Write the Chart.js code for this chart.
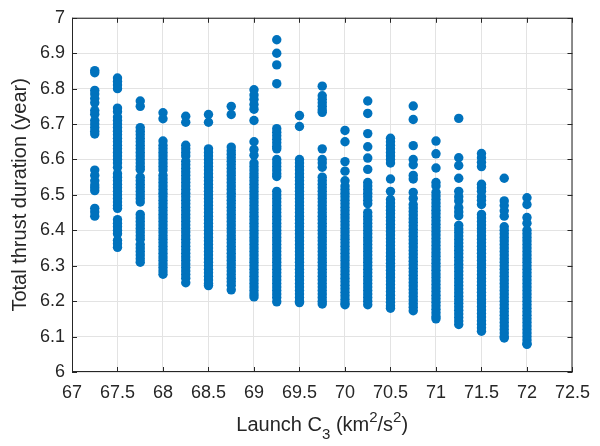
<!DOCTYPE html>
<html>
<head>
<meta charset="utf-8">
<script src="https://cdn.jsdelivr.net/npm/chart.js@4"></script>
<style>
  html, body { margin: 0; padding: 0; background: #ffffff; }
  #wrap { width: 600px; height: 446px; }
</style>
</head>
<body>
<div id="wrap"><canvas id="chart"></canvas></div>
<script>
// Launch C3 values (one column of points per value)
const launchC3 = [67.25, 67.5, 67.75, 68, 68.25, 68.5, 68.75, 69, 69.25, 69.5,
                  69.75, 70, 70.25, 70.5, 70.75, 71, 71.25, 71.5, 71.75, 72];

// Total thrust duration (year), same order as launchC3
const thrustDuration = [
  // 67.25
  [6.851, 6.845, 6.795, 6.785, 6.772, 6.76, 6.738, 6.728, 6.71, 6.70, 6.69, 6.68, 6.672, 6.57, 6.555, 6.54, 6.528, 6.52, 6.512, 6.462, 6.452, 6.44],
  // 67.5
  [6.83, 6.82, 6.81, 6.80, 6.745, 6.735, 6.72, 6.71, 6.70, 6.69, 6.68, 6.67, 6.66, 6.65, 6.64, 6.63, 6.62, 6.61, 6.60, 6.59, 6.578,
   6.56, 6.55, 6.54, 6.53, 6.52, 6.51, 6.50, 6.49, 6.48, 6.47, 6.462, 6.43, 6.42, 6.41, 6.40, 6.39, 6.372, 6.362, 6.352],
  // 67.75
  [6.765, 6.75, 6.69, 6.68, 6.67, 6.66, 6.65, 6.64, 6.63, 6.62, 6.61, 6.60, 6.59, 6.58, 6.572, 6.55, 6.54, 6.53, 6.52, 6.51, 6.50, 6.49, 6.48,
   6.445, 6.435, 6.425, 6.415, 6.405, 6.395, 6.385, 6.375, 6.36, 6.35, 6.34, 6.33, 6.32, 6.31],
  // 68
  [6.732, 6.715, 6.652, 6.64, 6.63, 6.62, 6.61, 6.60, 6.59, 6.58, 6.57, 6.555, 6.545, 6.535, 6.525, 6.515, 6.505, 6.495, 6.485, 6.475,
   6.465, 6.455, 6.445, 6.435, 6.425, 6.415, 6.405, 6.395, 6.385, 6.375, 6.365, 6.355, 6.345, 6.335, 6.325, 6.315, 6.305, 6.295, 6.285, 6.276],
  // 68.25
  [6.722, 6.705, 6.64, 6.63, 6.62, 6.61, 6.595, 6.585, 6.575, 6.565, 6.555, 6.545, 6.535, 6.525, 6.515, 6.505, 6.495, 6.485, 6.475, 6.465,
   6.455, 6.445, 6.435, 6.425, 6.415, 6.405, 6.395, 6.385, 6.375, 6.365, 6.355, 6.345, 6.335, 6.325, 6.315, 6.305, 6.295, 6.285, 6.275, 6.265, 6.252],
  // 68.5
  [6.727, 6.705, 6.63, 6.62, 6.61, 6.60, 6.59, 6.58, 6.57, 6.56, 6.55, 6.54, 6.53, 6.52, 6.51, 6.50, 6.49, 6.48, 6.47, 6.46, 6.45, 6.44,
   6.43, 6.42, 6.41, 6.40, 6.39, 6.38, 6.37, 6.36, 6.35, 6.34, 6.33, 6.32, 6.31, 6.30, 6.29, 6.28, 6.27, 6.26, 6.25, 6.244],
  // 68.75
  [6.75, 6.727, 6.635, 6.625, 6.615, 6.605, 6.595, 6.585, 6.575, 6.565, 6.555, 6.545, 6.535, 6.525, 6.515, 6.505, 6.495, 6.485, 6.475, 6.465,
   6.455, 6.445, 6.435, 6.425, 6.415, 6.405, 6.395, 6.385, 6.375, 6.365, 6.355, 6.345, 6.335, 6.325, 6.315, 6.305, 6.295, 6.285, 6.275, 6.265, 6.255, 6.245, 6.232],
  // 69
  [6.797, 6.782, 6.77, 6.755, 6.742, 6.71, 6.65, 6.628, 6.612, 6.59, 6.58, 6.57, 6.56, 6.55, 6.54, 6.53, 6.52, 6.51, 6.50, 6.49, 6.48, 6.47,
   6.46, 6.45, 6.44, 6.43, 6.42, 6.41, 6.40, 6.39, 6.38, 6.37, 6.36, 6.35, 6.34, 6.33, 6.32, 6.31, 6.30, 6.29, 6.28, 6.27, 6.26, 6.25, 6.24, 6.23, 6.22, 6.212],
  // 69.25
  [6.938, 6.90, 6.867, 6.814, 6.687, 6.677, 6.667, 6.657, 6.647, 6.637, 6.63, 6.60, 6.59, 6.58, 6.57, 6.56, 6.552, 6.51, 6.50, 6.49, 6.48,
   6.47, 6.46, 6.45, 6.44, 6.43, 6.42, 6.41, 6.40, 6.39, 6.38, 6.37, 6.36, 6.35, 6.34, 6.33, 6.32, 6.31, 6.30, 6.29, 6.28, 6.27, 6.26, 6.25, 6.24, 6.23, 6.22, 6.21, 6.198],
  // 69.5
  [6.724, 6.693, 6.60, 6.59, 6.58, 6.57, 6.56, 6.55, 6.54, 6.53, 6.52, 6.51, 6.50, 6.49, 6.48, 6.47, 6.46, 6.45, 6.44, 6.43, 6.42, 6.41,
   6.40, 6.39, 6.38, 6.37, 6.36, 6.35, 6.34, 6.33, 6.32, 6.31, 6.30, 6.29, 6.28, 6.27, 6.26, 6.25, 6.24, 6.23, 6.22, 6.21, 6.20, 6.196],
  // 69.75
  [6.807, 6.78, 6.77, 6.76, 6.75, 6.74, 6.733, 6.63, 6.60, 6.59, 6.578, 6.55, 6.54, 6.53, 6.52, 6.51, 6.50, 6.49, 6.48, 6.47, 6.46, 6.45,
   6.44, 6.43, 6.42, 6.41, 6.40, 6.39, 6.38, 6.37, 6.36, 6.35, 6.34, 6.33, 6.32, 6.31, 6.30, 6.29, 6.28, 6.27, 6.26, 6.25, 6.24, 6.23, 6.22, 6.21, 6.20, 6.192],
  // 70
  [6.682, 6.65, 6.594, 6.567, 6.54, 6.525, 6.515, 6.505, 6.495, 6.485, 6.475, 6.465, 6.455, 6.445, 6.435, 6.425, 6.415, 6.405, 6.395, 6.385,
   6.375, 6.365, 6.355, 6.345, 6.335, 6.325, 6.315, 6.305, 6.295, 6.285, 6.275, 6.265, 6.255, 6.245, 6.235, 6.225, 6.215, 6.205, 6.195, 6.19],
  // 70.25
  [6.765, 6.73, 6.673, 6.636, 6.604, 6.572, 6.535, 6.525, 6.515, 6.505, 6.495, 6.485, 6.475, 6.45, 6.44, 6.43, 6.42, 6.41, 6.40, 6.39,
   6.38, 6.37, 6.36, 6.35, 6.34, 6.33, 6.32, 6.31, 6.30, 6.29, 6.28, 6.27, 6.26, 6.25, 6.24, 6.23, 6.22, 6.21, 6.20, 6.19],
  // 70.5
  [6.66, 6.65, 6.64, 6.63, 6.62, 6.61, 6.60, 6.59, 6.545, 6.51, 6.487, 6.477, 6.467, 6.457, 6.447, 6.437, 6.427, 6.417, 6.407, 6.397, 6.387,
   6.377, 6.367, 6.357, 6.347, 6.337, 6.327, 6.317, 6.307, 6.297, 6.287, 6.277, 6.267, 6.257, 6.247, 6.237, 6.227, 6.217, 6.207, 6.197, 6.187, 6.18],
  // 70.75
  [6.751, 6.713, 6.639, 6.60, 6.585, 6.555, 6.545, 6.507, 6.49, 6.473, 6.463, 6.453, 6.443, 6.433, 6.423, 6.413, 6.403, 6.393, 6.383, 6.373,
   6.363, 6.353, 6.343, 6.333, 6.323, 6.313, 6.303, 6.293, 6.283, 6.273, 6.263, 6.253, 6.243, 6.233, 6.223, 6.213, 6.203, 6.193, 6.183, 6.173],
  // 71
  [6.652, 6.616, 6.576, 6.535, 6.525, 6.507, 6.497, 6.487, 6.477, 6.467, 6.457, 6.447, 6.437, 6.427, 6.417, 6.407, 6.397, 6.387, 6.377, 6.367,
   6.357, 6.347, 6.337, 6.327, 6.317, 6.307, 6.297, 6.287, 6.277, 6.267, 6.257, 6.247, 6.237, 6.227, 6.217, 6.207, 6.197, 6.187, 6.177, 6.167, 6.157, 6.15],
  // 71.25
  [6.716, 6.605, 6.583, 6.547, 6.51, 6.495, 6.483, 6.464, 6.452, 6.441, 6.414, 6.404, 6.394, 6.384, 6.374, 6.364, 6.354, 6.344, 6.334, 6.324,
   6.314, 6.304, 6.294, 6.284, 6.274, 6.264, 6.254, 6.244, 6.234, 6.224, 6.214, 6.204, 6.194, 6.184, 6.174, 6.164, 6.154, 6.144, 6.134],
  // 71.5
  [6.617, 6.605, 6.592, 6.58, 6.53, 6.52, 6.51, 6.495, 6.485, 6.473, 6.445, 6.435, 6.425, 6.415, 6.405, 6.395, 6.385, 6.375, 6.365, 6.355,
   6.345, 6.335, 6.325, 6.315, 6.305, 6.295, 6.285, 6.275, 6.265, 6.255, 6.245, 6.235, 6.225, 6.215, 6.205, 6.195, 6.185, 6.175, 6.165, 6.155, 6.145, 6.135, 6.125, 6.115],
  // 71.75
  [6.547, 6.483, 6.47, 6.455, 6.44, 6.41, 6.40, 6.39, 6.38, 6.37, 6.36, 6.35, 6.34, 6.33, 6.32, 6.31, 6.30, 6.29, 6.28, 6.27, 6.26, 6.25,
   6.24, 6.23, 6.22, 6.21, 6.20, 6.19, 6.18, 6.17, 6.16, 6.15, 6.14, 6.13, 6.12, 6.11, 6.10, 6.096],
  // 72
  [6.492, 6.473, 6.436, 6.42, 6.40, 6.39, 6.38, 6.37, 6.36, 6.35, 6.34, 6.33, 6.32, 6.31, 6.30, 6.29, 6.28, 6.27, 6.26, 6.25, 6.24, 6.23,
   6.22, 6.21, 6.20, 6.19, 6.18, 6.17, 6.16, 6.15, 6.14, 6.13, 6.12, 6.11, 6.10, 6.09, 6.08, 6.078]
];

// Axis ticks
const xTicks = [67, 67.5, 68, 68.5, 69, 69.5, 70, 70.5, 71, 71.5, 72, 72.5];
const yTicks = [6, 6.1, 6.2, 6.3, 6.4, 6.5, 6.6, 6.7, 6.8, 6.9, 7];

const FONT = 'Liberation Sans, Arial, Helvetica, sans-serif';
const AXIS_COLOR = '#262626';

// flatten columns into scatter points
const points = [];
launchC3.forEach((c3, i) => {
  thrustDuration[i].forEach(d => points.push({ x: c3, y: d }));
});

// MATLAB style box with inward ticks + x label with sub/superscripts
const matlabAxes = {
  id: 'matlabAxes',
  afterDraw(chart) {
    const { ctx, chartArea: a, scales } = chart;
    ctx.save();
    ctx.strokeStyle = AXIS_COLOR;
    ctx.lineWidth = 1;
    ctx.strokeRect(a.left + 0.5, a.top + 0.5, a.right - a.left - 1, a.bottom - a.top - 1);

    ctx.beginPath();
    xTicks.forEach(v => {
      const px = Math.round(scales.x.getPixelForValue(v)) + 0.5;
      ctx.moveTo(px, a.bottom); ctx.lineTo(px, a.bottom - 5);
      ctx.moveTo(px, a.top); ctx.lineTo(px, a.top + 5);
    });
    yTicks.forEach(v => {
      const py = Math.round(scales.y.getPixelForValue(v)) + 0.5;
      ctx.moveTo(a.left, py); ctx.lineTo(a.left + 5, py);
      ctx.moveTo(a.right, py); ctx.lineTo(a.right - 5, py);
    });
    ctx.stroke();

    // x axis title: Launch C3 (km2/s2)
    const size = 20, small = 15;
    const parts = [
      { t: 'Launch C', f: size, dy: 0 },
      { t: '3', f: small, dy: 8 },
      { t: ' (km', f: size, dy: 0 },
      { t: '2', f: small, dy: -9 },
      { t: '/s', f: size, dy: 0 },
      { t: '2', f: small, dy: -9 },
      { t: ')', f: size, dy: 0 }
    ];
    let total = 0;
    parts.forEach(p => { ctx.font = p.f + 'px ' + FONT; p.w = ctx.measureText(p.t).width; total += p.w; });
    let x = (a.left + a.right) / 2 - total / 2;
    const baseY = 431;
    ctx.fillStyle = AXIS_COLOR;
    ctx.textBaseline = 'alphabetic';
    ctx.textAlign = 'left';
    parts.forEach(p => {
      ctx.font = p.f + 'px ' + FONT;
      ctx.fillText(p.t, x, baseY + p.dy);
      x += p.w;
    });
    ctx.restore();
  }
};

new Chart(document.getElementById('chart'), {
  type: 'scatter',
  data: {
    datasets: [{
      data: points,
      pointRadius: 4.7,
      pointHoverRadius: 4.7,
      pointBorderWidth: 0,
      backgroundColor: '#0072BD',
      borderColor: '#0072BD'
    }]
  },
  options: {
    responsive: true,
    maintainAspectRatio: false,
    animation: false,
    layout: { padding: { left: 0, top: 10, right: 21, bottom: 0 } },
    plugins: {
      legend: { display: false },
      tooltip: { enabled: false }
    },
    scales: {
      x: {
        type: 'linear',
        min: 67,
        max: 72.5,
        afterBuildTicks: s => { s.ticks = xTicks.map(v => ({ value: v })); },
        afterFit: s => { s.height = 74; },
        border: { display: false },
        grid: { color: '#e3e3e3', drawTicks: false },
        ticks: {
          color: AXIS_COLOR,
          font: { family: FONT, size: 18 },
          padding: 10,
          maxRotation: 0,
          autoSkip: false,
          callback: v => String(v)
        }
      },
      y: {
        type: 'linear',
        min: 6,
        max: 7,
        afterBuildTicks: s => { s.ticks = yTicks.map(v => ({ value: v })); },
        afterFit: s => { s.width = 72; },
        border: { display: false },
        grid: { color: '#e3e3e3', drawTicks: false },
        title: {
          display: true,
          text: 'Total thrust duration (year)',
          color: AXIS_COLOR,
          font: { family: FONT, size: 20 },
          padding: { top: 8, bottom: 0 }
        },
        ticks: {
          color: AXIS_COLOR,
          font: { family: FONT, size: 18 },
          padding: 7,
          autoSkip: false,
          callback: v => String(Math.round(v * 10) / 10)
        }
      }
    }
  },
  plugins: [matlabAxes]
});
</script>
</body>
</html>
